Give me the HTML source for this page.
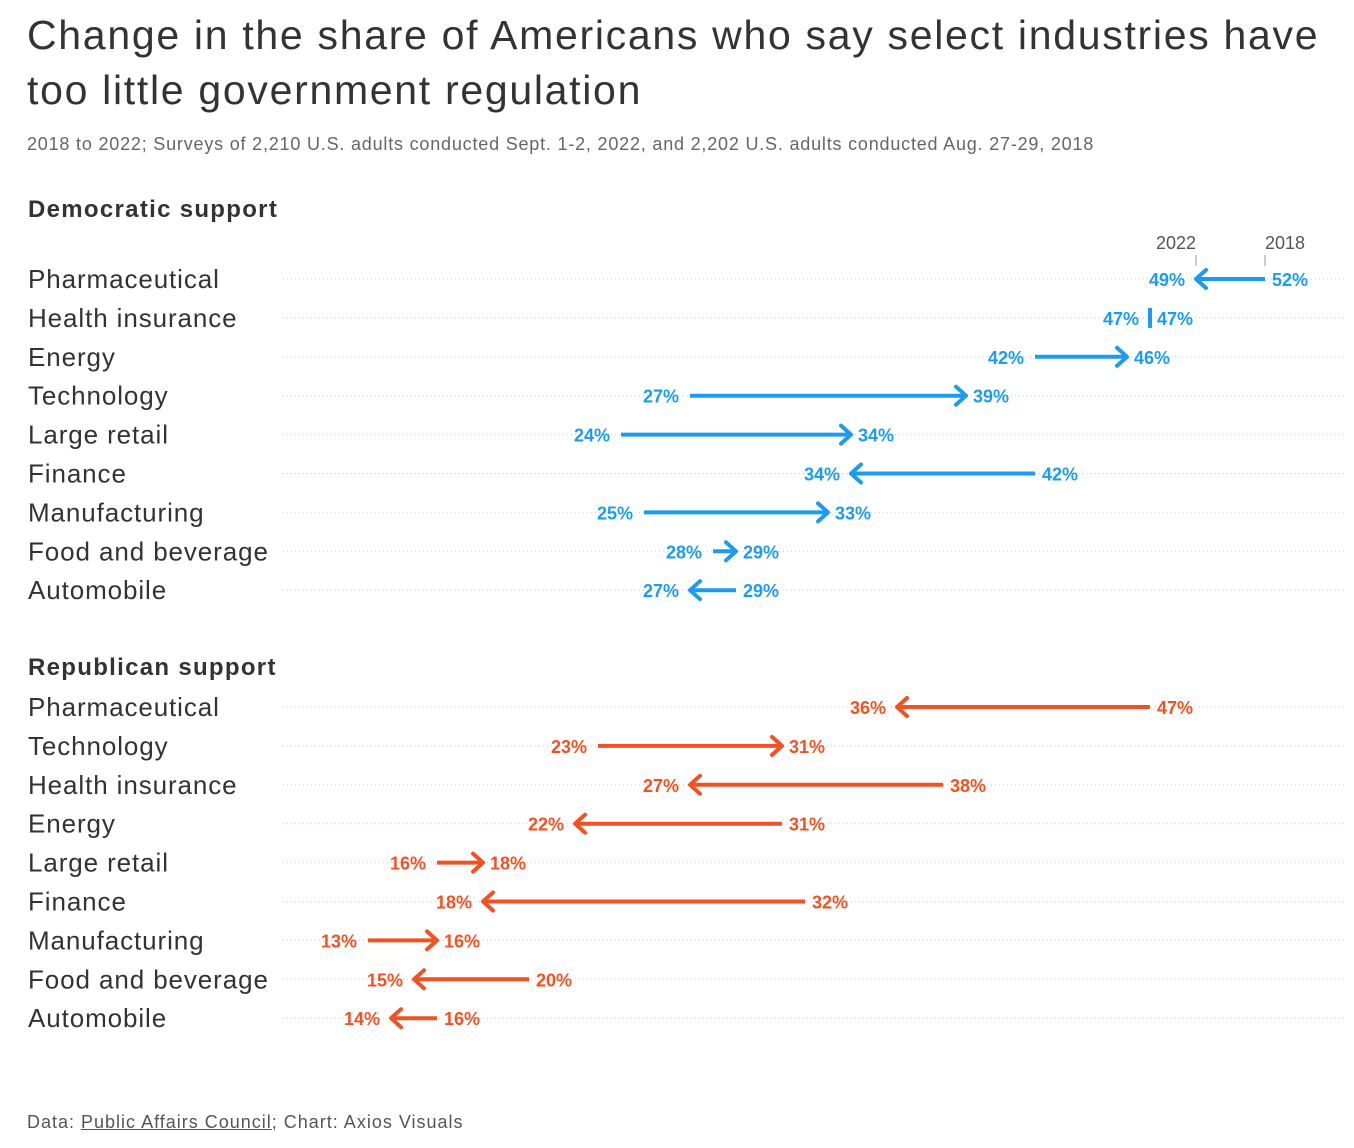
<!DOCTYPE html>
<html><head><meta charset="utf-8">
<style>
body{margin:0;background:#fff;width:1354px;height:1148px;overflow:hidden;font-family:"Liberation Sans",sans-serif;color:#333}
.title{position:absolute;left:27px;top:8px;font-size:41px;line-height:55px;color:#333;width:1330px;letter-spacing:1.7px}
.sub{position:absolute;left:27px;top:134px;font-size:18px;color:#666;letter-spacing:0.8px;white-space:nowrap}
.foot{position:absolute;left:27px;top:1112px;font-size:18px;color:#555;letter-spacing:1px}
</style></head><body>
<div class="title">Change in the share of Americans who say select industries have too little government regulation</div>
<div class="sub">2018 to 2022; Surveys of 2,210 U.S. adults conducted Sept. 1-2, 2022, and 2,202 U.S. adults conducted Aug. 27-29, 2018</div>
<svg id="chart" width="1354" height="1148" style="position:absolute;left:0;top:0"></svg>
<div class="foot">Data: <u>Public Affairs Council</u>; Chart: Axios Visuals</div>
<script>
const demCategories=["Pharmaceutical","Health insurance","Energy","Technology","Large retail","Finance","Manufacturing","Food and beverage","Automobile"];
const dem2018=[52,47,42,27,24,42,25,28,29];
const dem2022=[49,47,46,39,34,34,33,29,27];
const repCategories=["Pharmaceutical","Technology","Health insurance","Energy","Large retail","Finance","Manufacturing","Food and beverage","Automobile"];
const rep2018=[47,23,38,31,16,32,13,20,16];
const rep2022=[36,31,27,22,18,18,16,15,14];

const svg=document.getElementById('chart');
const NS='http://www.w3.org/2000/svg';
const x=p=>69+23*p;
function mk(tag,attrs,parent){const e=document.createElementNS(NS,tag);for(const k in attrs)e.setAttribute(k,attrs[k]);(parent||svg).appendChild(e);return e;}

function section(title,titleY,cats,a,b,color,y0,name){
  const h=mk('text',{x:28,y:titleY,'font-size':24,'font-weight':'bold',fill:'#333','letter-spacing':1.3,'font-family':'Liberation Sans, sans-serif'});
  
  
  h.textContent=title;
  cats.forEach((c,i)=>{
    const y=y0+i*38.9;
    const g=mk('g',{});
    
    
    mk('line',{x1:283,x2:1346,y1:y,y2:y,stroke:'#ccc','stroke-width':1,'stroke-dasharray':'1 3'},g);
    const lab=mk('text',{x:28,y:y+9,'font-size':26,fill:'#333','letter-spacing':0.9,'font-family':'Liberation Sans, sans-serif'},g);
    lab.textContent=c;
    const s=x(a[i]),e=x(b[i]);
    if(a[i]===b[i]){
      mk('line',{x1:s,x2:s,y1:y-10,y2:y+10,stroke:color,'stroke-width':4},g);
    } else {
      const dir=e>s?1:-1;
      mk('line',{x1:s,x2:e-dir*2,y1:y,y2:y,stroke:color,'stroke-width':4},g);
      mk('polyline',{points:`${e-dir*10},${y-9} ${e},${y} ${e-dir*10},${y+9}`,fill:'none',stroke:color,'stroke-width':4,'stroke-linecap':'round','stroke-linejoin':'round'},g);
    }
    const lo=Math.min(a[i],b[i]),hi=Math.max(a[i],b[i]);
    const t1=mk('text',{x:x(lo)-11,y:y+7,'font-size':18,'font-weight':'bold',fill:color,'text-anchor':'end','font-family':'Liberation Sans, sans-serif'},g);
    t1.textContent=lo+'%';
    const t2=mk('text',{x:x(hi)+7,y:y+7,'font-size':18,'font-weight':'bold',fill:color,'font-family':'Liberation Sans, sans-serif'},g);
    t2.textContent=hi+'%';
  });
}
const h22=mk('text',{x:x(49),y:249,'font-size':18,fill:'#555','text-anchor':'end','font-family':'Liberation Sans, sans-serif'});


h22.textContent='2022';
mk('line',{x1:x(49),x2:x(49),y1:255,y2:266,stroke:'#999','stroke-width':1});
const h18=mk('text',{x:x(52),y:249,'font-size':18,fill:'#555','font-family':'Liberation Sans, sans-serif'});


h18.textContent='2018';
mk('line',{x1:x(52),x2:x(52),y1:255,y2:266,stroke:'#999','stroke-width':1});

section('Democratic support',217,demCategories,dem2018,dem2022,'#1c9bef',279,'dem');
section('Republican support',675,repCategories,rep2018,rep2022,'#f15223',707,'rep');
</script>
</body></html>
